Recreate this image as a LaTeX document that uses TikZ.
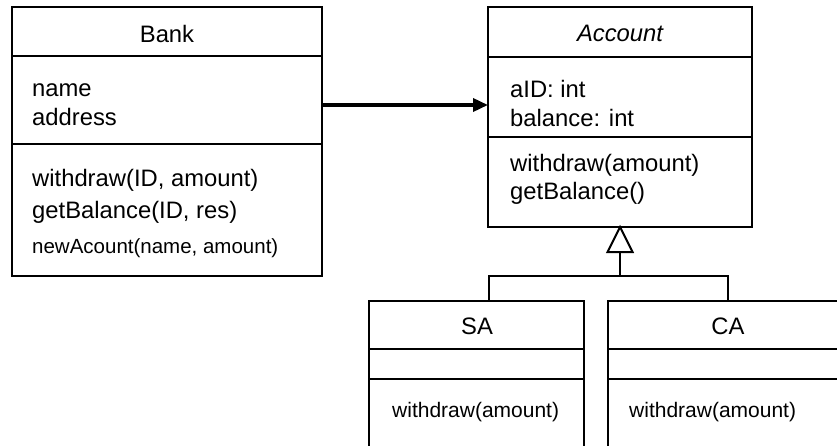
\documentclass[tikz,border=0pt]{standalone}
\usepackage{fontspec}
\setmainfont{Liberation Sans}
\usetikzlibrary{arrows.meta,calc}
\begin{document}
\begin{tikzpicture}[x=1pt,y=-1pt,
  umlbox/.style={draw,line width=2pt,rectangle,inner sep=0pt,outer sep=0pt,anchor=north west},
  sepline/.style={line width=2pt},
  conn/.style={line width=2pt},
  big/.style={font=\fontsize{23.8}{28}\selectfont,inner sep=0pt},
  mid/.style={font=\fontsize{20.5}{24}\selectfont,inner sep=0pt},
  small/.style={font=\fontsize{21}{25}\selectfont,inner sep=0pt},
  txt/.style={anchor=base west},
  ttl/.style={anchor=base}]
\path[use as bounding box,clip] (0,0) rectangle (837,446);
\fill[white] (0,0) rectangle (837,446);

% boxes
\node[umlbox,minimum width=310pt,minimum height=269pt] (bank) at (12,7) {};
\node[umlbox,minimum width=264pt,minimum height=220pt] (account) at (488,7) {};
\node[umlbox,minimum width=215pt,minimum height=200pt] (sa) at (369,301) {};
\node[umlbox,minimum width=240pt,minimum height=200pt] (ca) at (608,301) {};

% compartment lines
\draw[sepline] (bank.west |- 0,56) -- (bank.east |- 0,56);
\draw[sepline] (bank.west |- 0,144) -- (bank.east |- 0,144);
\draw[sepline] (account.west |- 0,57) -- (account.east |- 0,57);
\draw[sepline] (account.west |- 0,137) -- (account.east |- 0,137);
\draw[sepline] (sa.west |- 0,349) -- (sa.east |- 0,349);
\draw[sepline] (sa.west |- 0,379) -- (sa.east |- 0,379);
\draw[sepline] (ca.west |- 0,349) -- (ca.east |- 0,349);
\draw[sepline] (ca.west |- 0,379) -- (ca.east |- 0,379);

% texts: Bank
\node[big,ttl] (bankt) at (167,43) {Bank};
\node[big,txt] (b1) at (32,97) {name};
\node[big,txt] (b2) at (32,126) {address};
\node[big,txt] (b3) at (32,187) {withdraw(ID, amount)};
\node[big,txt] (b4) at (32,219) {getBalance(ID, res)};
\node[mid,txt] (b5) at (32,254) {newAcount(name, amount)};

% texts: Account
\node[big,ttl] (acct) at (620,42) {\itshape Account};
\node[big,txt] (a1) at (510,98) {aID: int};
\node[big,txt] (a2) at (510,127) {balance: int};
\node[big,txt] (a3) at (510,172) {withdraw(amount)};
\node[big,txt] (a4) at (510,200) {getBalance()};

% texts: SA / CA
\node[big,ttl] (sat) at (477,334) {SA};
\node[small,txt] (sa1) at (392,417) {withdraw(amount)};
\node[big,ttl] (cat) at (728,334) {CA};
\node[small,txt] (ca1) at (629,417) {withdraw(amount)};

% association arrow
\coordinate (arr) at (0,105);
\draw[line width=3.5pt,-{Triangle[length=15pt,width=13pt]}] (bank.east |- arr) -- (account.west |- arr);

% generalization
\coordinate (tb) at ($(account.south)+(0,25)$);
\coordinate (bus) at (620,276);
\coordinate (sajoin) at (489,301);
\draw[conn] (tb) -- (tb |- bus);
\draw[conn] (sajoin) -- (sajoin |- bus) -- (ca.north |- bus) -- (ca.north);
\draw[conn,fill=white,line join=miter] (account.south) -- ++(-12.5,25) -- ++(25,0) -- cycle;
\end{tikzpicture}
\end{document}
